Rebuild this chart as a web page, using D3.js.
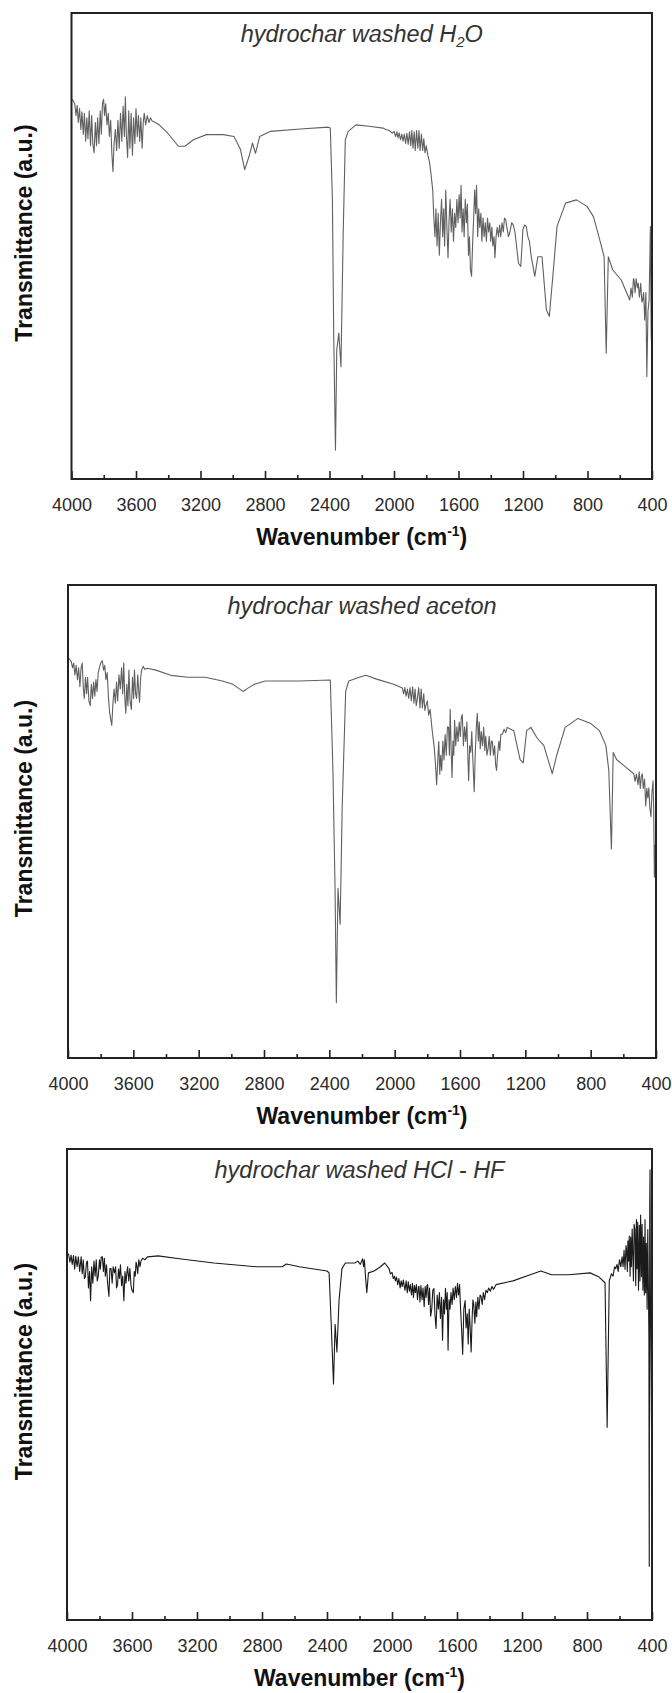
<!DOCTYPE html>
<html>
<head>
<meta charset="utf-8">
<script src="https://cdn.jsdelivr.net/npm/d3@7"></script>
<style>
  body { margin: 0; background: #fff; }
  svg { display: block; font-family: Arial, "Liberation Sans", sans-serif; }
</style>
</head>
<body>
<svg id="chart" width="672" height="1693"></svg>
<script>
// wavenumber axis
var majorTicks = [4000, 3600, 3200, 2800, 2400, 2000, 1600, 1200, 800, 400];
var minorTicks = [3800, 3400, 3000, 2600, 2200, 1800, 1400, 1000, 600];

// [wavenumber, transmittance %] (0 = bottom of frame, 100 = top)
var h2oSpectrum = [
  [4000,81.6],[3990,81.2],[3980,80.5],[3972,78.0],[3965,80.2],[3958,76.5],[3950,79.5],[3942,75.0],
  [3935,78.8],[3927,74.0],[3920,78.5],[3912,72.5],[3905,77.5],[3898,73.0],[3890,79.0],[3882,71.5],
  [3875,78.0],[3868,72.0],[3860,70.0],[3852,76.5],[3845,71.5],[3838,77.5],[3830,72.0],[3822,79.0],
  [3815,74.0],[3808,80.5],[3801,81.5],[3795,78.0],[3788,80.5],[3780,76.0],[3772,78.5],[3765,73.5],
  [3757,77.0],[3750,70.0],[3743,66.0],[3736,72.0],[3728,75.0],[3720,70.5],[3712,77.0],[3704,71.0],
  [3696,78.5],[3688,72.5],[3680,80.0],[3672,73.5],[3666,82.0],[3660,74.0],[3652,69.0],[3645,79.0],
  [3638,71.0],[3630,78.5],[3622,69.5],[3615,77.5],[3607,72.0],[3600,79.5],[3592,73.5],[3585,78.0],
  [3577,72.5],[3570,77.5],[3562,71.0],[3555,76.5],[3549,78.5],[3540,76.0],[3530,78.0],[3520,76.5],
  [3510,77.5],[3500,76.8],[3480,76.5],[3456,76.0],[3403,74.2],[3337,71.4],[3297,71.4],[3244,72.8],
  [3164,73.9],[3058,73.9],[2992,73.5],[2952,70.7],[2926,66.4],[2899,69.2],[2878,72.1],[2859,69.9],
  [2833,73.5],[2766,74.6],[2581,75.1],[2408,75.5],[2395,75.3],[2382,59.9],[2374,31.3],[2363,6.2],
  [2355,27.7],[2342,31.3],[2329,24.1],[2315,52.8],[2302,72.8],[2284,74.6],[2236,76.0],[2156,75.7],
  [2068,75.3],[2050,75.0],[2030,74.8],[2010,74.2],[2000,74.6],[1990,73.5],[1982,74.5],[1975,73.2],
  [1968,74.3],[1960,72.8],[1952,74.0],[1944,72.5],[1936,74.0],[1928,72.0],[1920,74.2],[1912,71.8],
  [1904,74.5],[1896,71.5],[1890,74.8],[1882,71.0],[1875,74.5],[1868,70.5],[1860,74.8],[1852,71.0],
  [1845,74.8],[1838,70.5],[1830,74.0],[1822,70.5],[1815,73.0],[1808,70.0],[1800,71.5],[1790,69.5],
  [1780,68.0],[1771,65.6],
  [1760,62.0],[1753,56.0],[1746,52.0],[1740,58.0],[1733,50.0],[1726,57.0],[1719,48.0],[1712,55.0],
  [1705,60.0],[1698,52.0],[1692,58.0],[1686,50.0],[1679,62.0],[1672,54.0],[1665,47.5],[1658,56.0],
  [1652,60.0],[1645,53.0],[1638,58.0],[1631,51.0],[1624,57.0],[1617,54.0],[1610,60.0],[1603,55.0],
  [1596,61.0],[1590,56.0],[1584,63.0],[1578,53.0],[1571,58.0],[1565,52.0],[1558,60.0],[1551,55.0],
  [1545,59.0],[1538,48.0],[1532,52.0],[1526,45.0],[1519,43.5],[1513,50.0],[1506,56.0],[1500,62.0],
  [1494,57.0],[1488,63.0],[1481,52.0],[1475,58.0],[1468,54.0],[1461,57.0],[1455,51.0],[1448,56.0],
  [1441,52.0],[1434,55.0],[1427,51.0],[1420,56.0],[1413,53.0],[1406,55.0],[1400,51.0],[1393,54.0],
  [1387,50.0],[1380,52.0],[1374,47.5],[1367,52.0],[1360,54.0],[1352,52.0],[1345,54.5],[1338,52.0],
  [1330,55.0],[1322,53.0],[1315,56.0],[1307,55.6],[1300,54.0],[1290,52.0],[1281,53.0],[1270,55.0],
  [1260,54.5],[1250,53.0],[1240,50.0],[1228,46.3],[1214,45.6],[1206,50.0],[1201,53.5],[1190,54.5],
  [1180,54.2],[1170,52.0],[1160,51.0],[1150,48.0],[1140,46.0],[1127,43.5],[1108,47.7],[1082,47.7],
  [1055,36.3],[1037,34.9],[1015,43.5],[989,54.2],[936,59.2],[869,59.9],[803,58.5],[763,56.3],
  [724,51.3],[697,47.7],[684,27.0],[671,47.7],[644,44.9],[591,42.7],[538,38.4],[530,41.0],
  [522,39.0],[515,43.0],[511,42.7],[505,40.0],[498,43.0],[490,41.0],[485,42.0],[478,39.0],
  [470,42.0],[463,38.0],[458,38.4],[452,40.0],[445,34.1],[438,40.0],[432,22.0],[425,36.0],
  [418,38.4],[414,46.0],[410,54.2],[407,40.0],[405,31.3],[402,28.0],[400,24.1]
];

var acetonSpectrum = [
  [4000,84.7],[3990,84.3],[3980,83.8],[3972,82.5],[3965,83.5],[3958,81.0],[3950,83.0],[3942,80.0],
  [3935,82.5],[3927,78.5],[3920,82.5],[3913,83.5],[3906,78.0],[3900,76.0],[3893,80.5],[3886,77.0],
  [3880,80.5],[3872,75.5],[3864,74.5],[3857,79.0],[3850,76.0],[3843,79.5],[3836,76.5],[3829,80.0],
  [3822,77.5],[3815,81.5],[3808,82.5],[3800,83.5],[3790,84.0],[3782,82.0],[3775,83.0],[3768,80.0],
  [3760,81.5],[3752,76.0],[3745,73.0],[3738,71.5],[3732,70.3],[3725,75.0],[3718,78.0],[3710,75.0],
  [3703,79.5],[3696,75.5],[3688,81.0],[3680,78.0],[3672,82.5],[3665,77.0],[3659,83.5],[3652,76.0],
  [3646,72.9],[3640,79.0],[3633,74.5],[3627,82.0],[3620,75.5],[3612,73.7],[3605,80.5],[3598,76.0],
  [3593,82.0],[3586,77.0],[3580,76.0],[3573,81.0],[3566,77.0],[3562,75.2],[3555,80.5],[3549,82.0],
  [3540,82.8],[3530,82.2],[3515,82.4],[3462,82.0],[3370,80.9],[3265,80.5],[3160,80.5],[3055,79.7],
  [2990,79.0],[2929,77.5],[2898,78.2],[2859,79.0],[2793,79.7],[2583,79.7],[2394,79.9],[2378,60.8],
  [2365,35.9],[2357,11.7],[2347,35.9],[2334,28.3],[2321,53.3],[2300,77.5],[2281,79.7],[2216,80.5],
  [2176,80.9],[2111,80.1],[2006,79.0],[1953,78.2],[1945,77.0],[1938,78.3],[1930,76.5],[1922,78.0],
  [1914,76.0],[1906,78.3],[1898,75.5],[1890,78.5],[1882,75.0],[1875,78.0],[1868,74.5],[1861,76.0],
  [1853,78.3],[1845,74.0],[1838,78.0],[1830,74.0],[1822,77.0],[1815,73.5],[1809,74.5],[1800,75.5],
  [1792,72.5],[1783,73.7],[1770,69.2],[1757,65.4],[1750,62.0],[1743,57.8],[1736,63.0],[1730,66.9],
  [1724,60.0],[1718,64.0],[1712,60.8],[1705,67.0],[1698,63.0],[1691,68.4],[1684,64.0],[1677,70.0],
  [1670,69.9],[1665,64.0],[1660,73.7],[1654,65.0],[1649,59.3],[1643,67.0],[1638,64.0],[1633,71.4],
  [1626,66.0],[1619,70.0],[1612,66.9],[1605,71.0],[1598,68.0],[1592,72.0],[1586,72.6],[1579,66.0],
  [1572,70.0],[1565,66.9],[1558,71.0],[1552,64.0],[1547,58.6],[1541,66.0],[1534,64.6],[1528,69.0],
  [1520,62.0],[1513,56.3],[1507,64.0],[1500,70.0],[1494,72.9],[1488,67.0],[1482,71.0],[1476,65.4],
  [1470,69.0],[1462,66.0],[1455,69.9],[1448,65.0],[1442,68.0],[1435,64.0],[1428,65.4],[1421,68.0],
  [1414,64.0],[1408,67.0],[1402,66.9],[1395,64.0],[1388,66.0],[1382,62.0],[1376,60.8],[1370,64.0],
  [1362,67.0],[1356,65.0],[1350,68.4],[1340,68.5],[1330,69.5],[1320,68.8],[1311,69.9],[1271,69.2],
  [1232,63.1],[1213,62.4],[1192,69.2],[1166,69.9],[1127,67.6],[1087,66.1],[1061,63.1],[1035,60.1],
  [1009,63.9],[956,69.9],[878,71.8],[799,70.7],[746,69.2],[707,66.1],[689,60.8],[673,44.2],
  [662,64.6],[641,63.1],[589,61.6],[536,60.1],[528,58.5],[520,60.0],[510,57.8],[503,60.5],
  [496,57.0],[490,59.5],[484,60.1],[478,57.0],[470,59.0],[463,53.3],[456,57.0],[450,55.0],
  [444,57.1],[438,53.0],[431,51.0],[425,56.0],[418,58.6],[414,52.0],[410,38.2],[406,45.0],
  [402,41.2],[400,40.0]
];

var hclSpectrum = [
  [4000,77.9],[3990,77.6],[3982,76.0],[3975,77.5],[3968,75.5],[3960,77.4],[3953,74.5],[3946,77.2],
  [3938,75.0],[3930,77.1],[3922,74.0],[3913,77.1],[3906,73.5],[3900,76.5],[3893,72.5],[3887,72.9],
  [3880,76.0],[3874,76.2],[3868,70.5],[3861,74.0],[3855,67.8],[3848,75.0],[3841,71.5],[3834,76.2],
  [3827,73.0],[3820,76.5],[3814,72.0],[3808,72.9],[3800,76.5],[3795,74.5],[3789,77.0],[3782,77.1],
  [3776,74.0],[3770,76.8],[3764,73.0],[3757,75.4],[3750,71.5],[3742,68.7],[3736,74.6],[3729,74.6],
  [3722,71.5],[3716,75.0],[3708,73.7],[3701,75.0],[3695,70.5],[3689,71.2],[3683,74.5],[3677,72.5],
  [3671,75.4],[3664,71.0],[3657,73.0],[3650,67.8],[3643,74.0],[3637,71.5],[3634,72.9],[3627,75.0],
  [3620,72.0],[3613,74.6],[3606,71.0],[3600,70.0],[3592,69.5],[3586,74.0],[3580,73.0],[3575,76.0],
  [3571,75.4],[3565,73.5],[3558,76.5],[3551,75.0],[3545,76.2],[3535,76.8],[3520,76.5],[3505,77.1],
  [3439,77.3],[3308,76.7],[3097,75.8],[2834,75.0],[2676,75.0],[2650,75.6],[2571,75.0],[2400,74.1],
  [2387,73.7],[2374,62.8],[2360,50.1],[2350,62.8],[2339,56.9],[2326,67.8],[2308,74.6],[2287,75.8],
  [2229,75.8],[2210,76.2],[2195,75.5],[2181,76.7],[2175,75.0],[2170,76.5],[2163,72.9],[2155,69.5],
  [2145,73.7],[2110,74.1],[2071,75.0],[2045,75.8],[2018,74.6],[2010,73.5],[2000,73.8],[1992,72.5],
  [1985,73.0],[1979,72.0],[1972,72.8],[1965,71.2],[1958,72.5],[1950,70.5],[1944,72.0],[1937,70.8],
  [1930,72.2],[1926,71.2],[1920,70.0],[1913,72.0],[1906,69.5],[1900,71.8],[1893,69.8],[1887,71.2],
  [1880,69.0],[1874,71.5],[1868,68.5],[1862,71.0],[1856,69.5],[1850,71.2],[1843,68.0],[1837,70.8],
  [1834,70.8],[1828,67.5],[1822,71.0],[1815,68.0],[1809,70.5],[1802,66.5],[1796,70.8],[1790,68.5],
  [1785,71.0],[1781,71.2],[1775,67.0],[1769,70.5],[1762,64.5],[1755,66.1],[1749,70.0],[1742,70.4],
  [1736,65.0],[1729,61.9],[1722,69.0],[1715,66.0],[1708,69.5],[1702,64.0],[1695,68.5],[1689,59.4],
  [1683,68.0],[1677,65.0],[1671,70.4],[1665,66.0],[1660,69.5],[1655,57.3],[1649,68.0],[1643,66.0],
  [1637,69.5],[1630,67.0],[1624,70.5],[1617,68.0],[1610,70.8],[1603,68.5],[1597,71.5],[1590,69.0],
  [1584,71.2],[1578,66.0],[1572,62.0],[1565,56.4],[1558,66.0],[1550,67.8],[1544,62.0],[1537,65.0],
  [1531,58.6],[1525,66.0],[1519,62.0],[1513,56.9],[1507,64.0],[1502,68.0],[1497,67.0],[1490,63.0],
  [1484,67.5],[1479,64.4],[1472,68.5],[1465,66.0],[1458,69.0],[1452,68.7],[1445,67.0],[1438,69.5],
  [1430,68.0],[1422,70.0],[1413,69.5],[1405,70.5],[1395,69.8],[1385,70.8],[1375,70.2],[1360,71.2],
  [1255,72.0],[1150,73.3],[1084,74.1],[1018,73.3],[913,73.3],[781,73.7],[729,72.9],[689,71.6],
  [676,40.9],[663,72.0],[650,73.5],[640,73.0],[630,75.0],[623,74.6],[615,75.5],[608,74.0],
  [600,76.5],[592,75.0],[584,77.1],[578,75.0],[572,78.5],[566,74.5],[560,79.5],[557,78.8],
  [552,74.0],[548,80.5],[544,76.2],[540,81.5],[535,73.0],[531,81.3],[527,75.0],[522,83.0],
  [518,77.1],[514,72.0],[510,84.0],[505,82.9],[500,71.0],[496,85.0],[492,74.6],[488,84.5],
  [483,70.0],[478,83.8],[474,72.0],[470,86.0],[465,72.9],[461,84.0],[456,70.0],[452,81.3],
  [447,69.0],[443,85.0],[439,69.5],[435,80.0],[430,66.0],[426,82.9],[422,70.0],[419,60.0],
  [417,11.4],[414,88.0],[412,95.6],[410,70.0],[407,57.7],[404,45.0],[402,38.0],[400,32.4]
];

var titles = ["hydrochar washed H|2|O", "hydrochar washed aceton", "hydrochar washed HCl - HF"];

var panels = [
  {data: h2oSpectrum,    title: titles[0], left: 71.5, right: 652, top: 13,   bottom: 479,  color: "#606060"},
  {data: acetonSpectrum, title: titles[1], left: 68,   right: 656, top: 585,  bottom: 1058, color: "#606060"},
  {data: hclSpectrum,    title: titles[2], left: 67,   right: 652, top: 1149, bottom: 1620, color: "#1a1a1a"}
];

var svg = d3.select("#chart");

panels.forEach(function(p){
  var x = d3.scaleLinear().domain([4000, 400]).range([p.left, p.right]);
  var y = d3.scaleLinear().domain([0, 100]).range([p.bottom, p.top]);
  var g = svg.append("g");

  var line = d3.line().x(function(d){ return x(d[0]); }).y(function(d){ return y(d[1]); });
  g.append("path").datum(p.data)
    .attr("d", line).attr("fill", "none")
    .attr("stroke", p.color).attr("stroke-width", 1.1).attr("stroke-linejoin", "round");

  // minor ticks
  g.append("g").attr("transform", "translate(0," + p.bottom + ")")
    .call(d3.axisBottom(x).tickValues(minorTicks).tickSize(-4).tickFormat(""))
    .call(function(a){ a.select(".domain").remove(); a.selectAll("line").attr("stroke", "#222").attr("stroke-width", 1.6); });

  // major ticks + labels
  g.append("g").attr("transform", "translate(0," + p.bottom + ")")
    .call(d3.axisBottom(x).tickValues(majorTicks).tickSize(-8).tickPadding(19).tickFormat(d3.format("d")))
    .call(function(a){
      a.select(".domain").remove();
      a.selectAll("line").attr("stroke", "#222").attr("stroke-width", 1.6);
      a.selectAll("text").attr("font-size", 18).attr("fill", "#2a2a2a")
        .attr("font-family", "Arial, 'Liberation Sans', sans-serif");
    });

  // frame
  g.append("rect").attr("x", p.left).attr("y", p.top)
    .attr("width", p.right - p.left).attr("height", p.bottom - p.top)
    .attr("fill", "none").attr("stroke", "#222").attr("stroke-width", 2);

  // title with optional subscript
  var parts = p.title.split("|");
  var t = g.append("text").attr("x", (p.left + p.right) / 2).attr("y", p.top + 29)
    .attr("text-anchor", "middle").attr("font-size", 23.5).attr("font-style", "italic").attr("fill", "#333");
  parts.forEach(function(s, i){
    var ts = t.append("tspan").text(s);
    if (i % 2 == 1) ts.attr("font-size", 15).attr("dy", 5);
    else if (i > 0) ts.attr("dy", -5);
  });

  // y label
  var cy = (p.top + p.bottom) / 2 - 13;
  g.append("text").attr("transform", "translate(" + 32 + "," + cy + ") rotate(-90)")
    .attr("text-anchor", "middle").attr("font-size", 23).attr("font-weight", "bold").attr("fill", "#111")
    .text("Transmittance (a.u.)");

  // x label
  var xl = g.append("text").attr("x", (p.left + p.right) / 2).attr("y", p.bottom + 66)
    .attr("text-anchor", "middle").attr("font-size", 23).attr("font-weight", "bold").attr("fill", "#111");
  xl.append("tspan").text("Wavenumber (cm");
  xl.append("tspan").text("-1").attr("font-size", 14).attr("dy", -9);
  xl.append("tspan").text(")").attr("dy", 9);
});
</script>
</body>
</html>
